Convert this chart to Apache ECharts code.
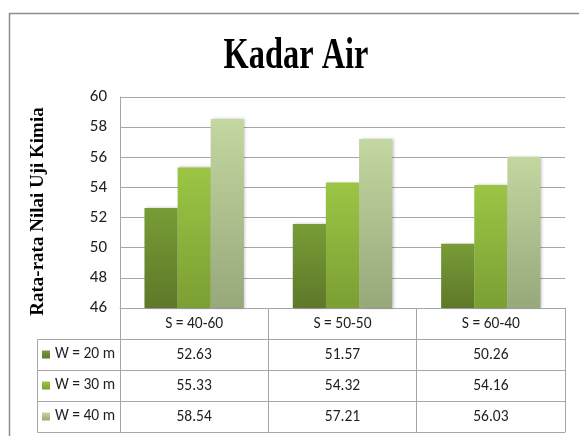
<!DOCTYPE html>
<html>
<head>
<meta charset="utf-8">
<style>
  html, body { margin: 0; padding: 0; background: #ffffff; }
  #chart { width: 579px; height: 436px; }
</style>
<script src="https://cdn.jsdelivr.net/npm/echarts@6/dist/echarts.min.js"></script>
</head>
<body>
<div id="chart"></div>
<script>
// ---- data ----
var titleText = 'Kadar Air';
var yAxisTitle = 'Rata-rata Nilai Uji Kimia';
var categories = ['S = 40-60', 'S = 50-50', 'S = 60-40'];
var seriesNames = ['W = 20 m', 'W = 30 m', 'W = 40 m'];
var w20 = [52.63, 51.57, 50.26];
var w30 = [55.33, 54.32, 54.16];
var w40 = [58.54, 57.21, 56.03];
var yMin = 46, yMax = 60, yStep = 2;

// ---- styles ----
var SANS = "'Carlito', 'Lato', sans-serif";
var SERIF = "'Liberation Serif', 'Times New Roman', serif";
var lineCol = '#a6a6a6';
var textCol = '#1f1f1f';
var gradients = [
  ['#789c36', '#5e7829'],
  ['#9cc545', '#7b9f33'],
  ['#c3d7a0', '#97a87b']
];
var GRID = { left: 120, right: 14, top: 97, bottom: 128 };
var ROW = 31;
var tableLeft = 37;
var FS = 15.5;

function grad(c) {
  return new echarts.graphic.LinearGradient(0, 0, 0, 1, [
    { offset: 0, color: c[0] },
    { offset: 1, color: c[1] }
  ]);
}

var chart = echarts.init(document.getElementById('chart'), null, { renderer: 'canvas' });
var seriesData = [w20, w30, w40];
var fmt = function (v) { return v.toFixed(2); };

var xAxes = [{
  type: 'category',
  data: categories,
  position: 'bottom',
  boundaryGap: true,
  axisLine: { show: true, lineStyle: { color: lineCol, width: 1 } },
  axisTick: { show: true, length: ROW * 4, inside: false, lineStyle: { color: lineCol, width: 1 } },
  axisLabel: { color: textCol, fontFamily: SANS, fontSize: FS, margin: 8 },
  splitLine: { show: false }
}];
for (var r = 0; r < 3; r++) {
  xAxes.push({
    type: 'category',
    data: seriesData[r].map(fmt),
    position: 'bottom',
    offset: ROW * (r + 1),
    axisLine: { show: true, lineStyle: { color: lineCol, width: 1 } },
    axisTick: { show: false },
    axisLabel: { color: textCol, fontFamily: SANS, fontSize: FS, margin: 8 },
    splitLine: { show: false }
  });
}
xAxes.push({
  type: 'category',
  data: categories,
  position: 'bottom',
  offset: ROW * 4,
  axisLine: { show: true, lineStyle: { color: lineCol, width: 1 } },
  axisTick: { show: false },
  axisLabel: { show: false }
});

var series = seriesNames.map(function (n, i) {
  return {
    name: n,
    type: 'bar',
    xAxisIndex: 0,
    data: seriesData[i],
    barGap: '0%',
    barCategoryGap: '33%',
    itemStyle: {
      color: grad(gradients[i]),
      shadowColor: 'rgba(0,0,0,0.25)',
      shadowBlur: 3,
      shadowOffsetX: 1.5,
      shadowOffsetY: 0
    },
    emphasis: { disabled: true }
  };
});

var tableTop = 436 - GRID.bottom + ROW;
var option = {
  animation: false,
  backgroundColor: '#ffffff',
  grid: { left: GRID.left, right: GRID.right, top: GRID.top, bottom: GRID.bottom, containLabel: false },
  xAxis: xAxes,
  yAxis: {
    type: 'value',
    min: yMin, max: yMax, interval: yStep,
    name: yAxisTitle,
    nameLocation: 'middle',
    nameRotate: 90,
    nameGap: 72,
    nameTextStyle: { fontFamily: SERIF, fontWeight: 'bold', fontSize: 19, color: '#000', padding: [0, 18, 0, 0] },
    axisLine: { show: true, lineStyle: { color: lineCol, width: 1 } },
    axisTick: { show: false },
    axisLabel: { color: textCol, fontFamily: SANS, fontSize: 17, margin: 13 },
    splitLine: { show: true, lineStyle: { color: lineCol, width: 1 } }
  },
  legend: {
    orient: 'vertical',
    left: 42,
    top: tableTop + (ROW - 20) / 2,
    itemWidth: 8,
    itemHeight: 8,
    itemGap: ROW - 20,
    icon: 'rect',
    padding: 0,
    selectedMode: false,
    textStyle: { color: textCol, fontFamily: SANS, fontSize: FS, lineHeight: 20 },
    data: seriesNames
  },
  graphic: [
    {
      type: 'rect',
      shape: { x: 9.5, y: 13.5, width: 700, height: 600 },
      style: { fill: 'none', stroke: '#8c8c8c', lineWidth: 1.5 },
      silent: true
    },
    {
      type: 'text',
      x: 296,
      y: 56,
      scaleX: 0.72,
      style: {
        text: titleText,
        x: 0,
        y: 0,
        align: 'center',
        verticalAlign: 'middle',
        fontFamily: SERIF,
        fontWeight: 'bold',
        fontSize: 45,
        fill: '#000'
      },
      silent: true
    },
    {
      type: 'rect',
      shape: { x: tableLeft + 0.5, y: tableTop + 0.5, width: GRID.left - tableLeft, height: ROW * 3 },
      style: { fill: 'none', stroke: lineCol, lineWidth: 1 },
      silent: true
    },
    {
      type: 'line',
      shape: { x1: tableLeft, y1: tableTop + ROW + 0.5, x2: GRID.left, y2: tableTop + ROW + 0.5 },
      style: { stroke: lineCol, lineWidth: 1 },
      silent: true
    },
    {
      type: 'line',
      shape: { x1: tableLeft, y1: tableTop + ROW * 2 + 0.5, x2: GRID.left, y2: tableTop + ROW * 2 + 0.5 },
      style: { stroke: lineCol, lineWidth: 1 },
      silent: true
    }
  ],
  series: series
};
chart.setOption(option);
</script>
</body>
</html>
